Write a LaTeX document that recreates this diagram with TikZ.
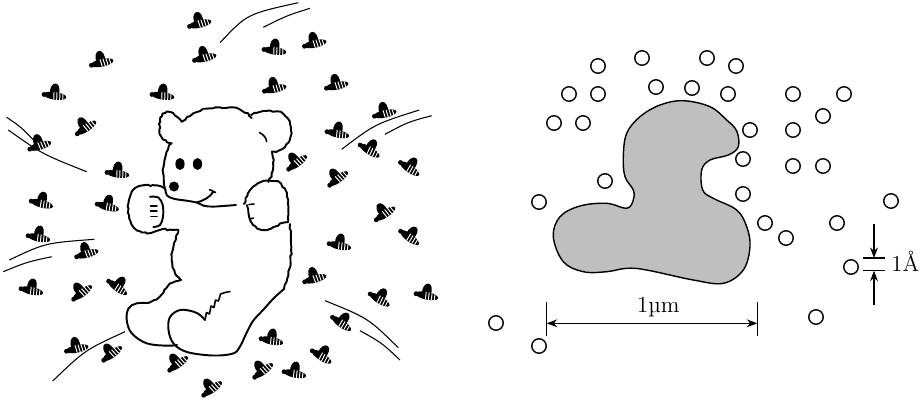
\documentclass[tikz,border=0pt]{standalone}
\usetikzlibrary{arrows.meta,decorations.pathmorphing}
\begin{document}
\begin{tikzpicture}[x=0.02cm,y=-0.02cm,
  fur/.style={line width=1.1pt, line join=round, line cap=round, decorate,
    decoration={random steps, segment length=1.8pt, amplitude=0.6pt}},
  outline/.style={line width=1.1pt, line join=round, line cap=round},
  motion/.style={line width=0.6pt},
  bead/.style={circle, draw, line width=0.8pt, minimum size=0.29cm, inner sep=0pt},
  blob/.style={draw, line width=0.8pt, fill=black!25},
  dim/.style={line width=0.6pt},
  tip/.style={-{Stealth[length=6pt,width=4.5pt]}},
  label/.style={font=\fontsize{13}{15}\selectfont, inner sep=0pt},
  pics/bee/.style={code={
    % wing
    \fill (-5,0) .. controls (-7,-6) and (-4,-12) .. (-0.5,-11.5)
          .. controls (3,-11) and (4.5,-6) .. (3.5,0) -- cycle;
    % striped body
    \fill (0,0.8) ellipse [x radius=11.5, y radius=3.9];
    \begin{scope}
      \clip (0,0.8) ellipse [x radius=11.5, y radius=3.9];
      \foreach \s in {-1.5,1.5,4.5,7.5} \draw[white, line width=0.55pt] (\s,-4) -- (\s+1,6);
    \end{scope}
    \fill (-11,1) circle [radius=2.4];
  }}
]
\useasboundingbox (0,0) rectangle (924,400);

% ---------- motion lines ----------
\draw[motion] (220,42.7) .. controls (247,14) .. (298.3,2.7);
\draw[motion] (263.3,27.3) .. controls (287,15.5) .. (310,8.3);
\draw[motion] (6.7,117.3) .. controls (21,127) .. (36.7,143.3);
\draw[motion] (8.3,130) .. controls (42.5,154.2) .. (86.7,171.7);
\draw[motion] (341.7,149.3) .. controls (375,124) .. (419.3,110);
\draw[motion] (385,134.3) .. controls (408,122) .. (431.7,115.7);
\draw[motion] (9.3,260) .. controls (45,243) .. (94.3,239.3);
\draw[motion] (3.3,271.7) .. controls (27,262) .. (51.7,256.7);
\draw[motion] (52.7,381) .. controls (85,350) .. (125,331.7);
\draw[motion] (325,300.7) .. controls (368,318) .. (398.3,347.7);
\draw[motion] (360,330.7) .. controls (382,343) .. (400,360);

% ---------- bees ----------
\foreach \x/\y/\a in {
  200/23/13, 102/62/12, 205/57/13, 275/50/-8, 315/43/12,
  55/95/-8, 163/95/-8, 275/88/12, 337/85/12, 86/127/33,
  40/145/17, 118/173/-8, 385/113/12, 338/133/-12, 370/150/-32,
  297/162/36, 410/168/-35, 338/178/36, 42/203/-15, 108/206/-15,
  39/237/-12, 87/253/15, 32/290/-12, 82/292/36, 118/287/-37,
  385/213/33, 410/237/-37, 340/245/-12, 315/278/15, 380/299/-32,
  427/295/-12, 342/323/-36, 272/340/-12, 77/348/12, 112/353/36,
  178/363/36, 322/356/-33, 263/370/36, 295/373/-12, 212/388/36}
  \pic[rotate=\a] at (\x,\y) {bee};

% ---------- teddy bear ----------
% left ear and left side of the head
\draw[fur] (181.7,121.7) -- (178,117.5) -- (173,113) -- (167,111.5) -- (162.5,113.5)
  -- (160,118) -- (159,124) -- (159.3,130) -- (160.5,135.5) -- (163,139.5) -- (167,142.3)
  -- (171.7,143.3) -- (168.5,147) -- (166.5,152) -- (164.5,160) -- (163.5,167)
  -- (163.3,174) -- (163.8,181) -- (165.5,190);
% chin
\draw[outline] plot[smooth, tension=0.6] coordinates {
  (165.5,190) (167,195.5) (174,198.8) (186,200.6) (197,202.6)
  (204,205.8) (213,206.6) (223,206) (236,205)};
% top of the head
\draw[fur] (181.7,121.7) -- (187,117) -- (193.3,113.3) -- (201,110.3) -- (210,108.3)
  -- (220,107.3) -- (230,107.3) -- (240,109.5) -- (248.3,113.3) -- (251.7,118);
% right ear and right side of the head
\draw[fur] (251,115) -- (256,113) -- (263,111) -- (270,110.5) -- (277,111.3) -- (283,113.5)
  -- (287.5,118) -- (290,124) -- (291,131) -- (290.5,137) -- (288.5,142.5) -- (285,147)
  -- (279,150.5) -- (272,151.5) -- (272.6,156) -- (273,163) -- (273,170)
  -- (271.7,176.7) -- (268.3,182);
\draw[outline, line width=0.9pt] (259.5,132.5) .. controls (264,135) and (266,137.5) .. (266.7,141.7);
% eyes and nose
\fill (180,164) ellipse [x radius=4.6, y radius=6];
\fill (197.5,164) ellipse [x radius=4.6, y radius=6];
\fill (174,186.5) circle [radius=5];
% smile
\draw[outline] (196.7,202.5) .. controls (205,200) and (210,197) .. (213.3,191.7);
\draw[outline, line width=0.9pt] (209.5,189.5) -- (215.5,192.5);
% right arm
\draw[fur] (244,204) -- (245.5,198.5) -- (247.5,194) -- (251,189) -- (255,185.5)
  -- (261,182) -- (268,180.5) -- (275,181) -- (281,183.5) -- (284.5,188) -- (287,193)
  -- (288.3,200) -- (288.5,207) -- (288.5,214) -- (288.3,221);
\draw[fur] (288.3,222) -- (284,222.5) -- (280,223.5) -- (273.5,227) -- (267,230)
  -- (261.5,230) -- (257,228.5) -- (253,225) -- (250.5,221) -- (249,216.5)
  -- (248.3,212) -- (247,205);
\draw[outline, line width=0.9pt] (249,204.5) -- (254,204);
\draw[outline, line width=0.9pt] (249.5,219) -- (253.5,218);
% left arm
\draw[fur] (165,188.5) -- (161.5,186.5) -- (158,185.5) -- (153,185) -- (148,184.8)
  -- (143.5,185.2) -- (139,186) -- (135,188) -- (132,191) -- (130,196.5)
  -- (128.5,203) -- (128.5,209) -- (129,215) -- (130,220) -- (131.5,224.5)
  -- (134,228) -- (137,230.5) -- (142,232.5) -- (147,233.5) -- (151,233)
  -- (155,231.5) -- (161.7,229.3) -- (170,229.6) -- (178.3,230);
% paw
\draw[outline] plot[smooth, tension=0.6] coordinates {
  (150,196.8) (158.3,197.5) (162.7,205) (163,216.7) (160,225) (153.3,227)};
\draw[outline, line width=0.9pt] (150.5,206) -- (157,206);
\draw[outline, line width=0.9pt] (150.5,211) -- (157,211);
\draw[outline, line width=0.9pt] (151,216.7) -- (157,216.7);
% left side of the body
\draw[fur] (178.3,230) -- (176,236) -- (174,243.3) -- (172.5,251) -- (171.7,260)
  -- (172.5,267) -- (175,273.3) -- (181,280) -- (175,281.5) -- (170,283.3)
  -- (166.5,288) -- (163.3,293) -- (160,296.5) -- (156.7,299.5) -- (151.5,301.5)
  -- (146.7,303);
% left foot
\draw[outline] plot[smooth, tension=0.6] coordinates {
  (146.7,303) (136,303.5) (128.5,308.5) (126.7,320) (131.7,333.3)
  (146.7,343.3) (166.7,345.7) (177,345)};
% right side of the body
\draw[fur] (290,224) -- (290.8,232) -- (291,240) -- (291,250) -- (290.5,260)
  -- (289.7,268) -- (288.5,275) -- (286.5,282) -- (284,289);
% right foot
\draw[outline] plot[smooth, tension=0.6] coordinates {
  (284,289) (274,298) (263,310) (253,321) (246.5,333) (240,346.5)
  (233,353.5) (213,355.5) (187,352) (173.5,343.5) (168.5,330) (170,317)
  (180,310) (193,311.5) (200,315) (205,320)};
% seam running up from the foot
\draw[outline, line width=0.9pt] (205,320) -- (206.5,312.5) -- (209.5,314) -- (211,306)
  -- (214,307.5) -- (215.5,300) -- (218.5,301) -- (220.5,294) -- (225,292.5) -- (230,291.5);

% ---------- right panel ----------
\draw[blob] plot[smooth cycle, tension=0.6] coordinates {
  (683.3,100.7) (710,106.7) (726.7,120) (736.7,131) (738.3,146.7)
  (728.3,155) (710,160) (701.7,170) (702.7,190) (713.3,198.3)
  (736.7,210) (746.7,226.7) (750,246.7) (743.3,270) (723.3,283.3)
  (693.3,280) (646.7,270) (626.7,268.3) (606.7,271.7) (583.3,271.7)
  (563.3,261.7) (553.3,236.7) (560,216.7) (580,206) (606.7,203.3)
  (626.7,208.3) (633.3,200) (633.3,190) (625,176.7) (623.3,156.7)
  (626.7,133.3) (640,116.7) (660,105)};

\foreach \x/\y [count=\i] in {
  598/66, 642/58, 707/58, 736/66, 569/94, 598/94, 656/87, 692/88,
  728/94, 793/94, 844/94, 554/123, 583/123, 823/116, 750/130, 793/130,
  743/159, 793/166, 823/166, 605/181, 539/202, 743/194, 891/201,
  765/223, 786/238, 837/223, 851/267, 816/317, 496/323, 539/346}
  \node[bead] (c\i) at (\x,\y) {};

% one micrometre
\coordinate (dla) at (546.7,302);
\coordinate (dlb) at (546.7,336);
\coordinate (dra) at (757.3,302);
\coordinate (drb) at (757.3,336);
\coordinate (dl) at (546.7,323.3);
\coordinate (dr) at (757.3,323.3);
\draw[dim] (dla) -- (dlb);
\draw[dim] (dra) -- (drb);
\draw[dim, {Stealth[length=6pt,width=4.5pt]}-{Stealth[length=6pt,width=4.5pt]}] (dl) -- (dr);
\node[label, anchor=base] (um) at (658.3,312.7) {1µm};

% one angstrom
\coordinate (aua) at (863,258);
\coordinate (aub) at (885,258);
\coordinate (ala) at (863,270.7);
\coordinate (alb) at (885,270.7);
\coordinate (atop) at (874,224);
\coordinate (atopend) at (874,258);
\coordinate (abot) at (874,305);
\coordinate (abotend) at (874,270.7);
\draw[dim] (aua) -- (aub);
\draw[dim] (ala) -- (alb);
\draw[dim, tip] (atop) -- (atopend);
\draw[dim, tip] (abot) -- (abotend);
\node[label, anchor=base west] (ang) at (891,271.7) {1Å};
\end{tikzpicture}
\end{document}
